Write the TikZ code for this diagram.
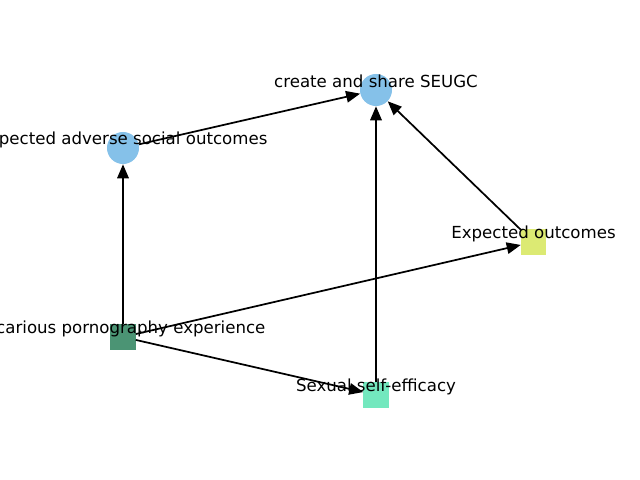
\documentclass[tikz,border=0pt]{standalone}
\usepackage{fontspec}
\setmainfont{DejaVu Sans}
\usepackage{xcolor}
\usepackage{tikz}
\usetikzlibrary{
	positioning,    % posizionamento dei nodi
	arrows.meta     % punte di freccia (Triangle)
}
% Colori dei nodi
\definecolor{blunodo}{RGB}{133,193,233}
\definecolor{verdescuro}{RGB}{75,148,116}
\definecolor{verdeacqua}{RGB}{115,232,190}
\definecolor{giallolime}{RGB}{220,234,115}

\tikzset{
	cerchio/.style={circle, fill=#1, minimum size=0.32in, inner sep=0pt},
	quadrato/.style={rectangle, fill=#1, minimum size=0.25in, inner sep=0pt},
	etichetta/.style={font=\fontsize{12}{14}\selectfont, inner sep=0pt, yshift=0.085in},
	freccia/.style={-{Triangle[length=0.14in, width=0.115in]}, line width=1.25pt, black}
}

\begin{document}
\begin{tikzpicture}[x=0.01in, y=-0.01in]
	% --- Area del disegno (640x480) ---
	\useasboundingbox (0,0) rectangle (640,480);
	\clip (0,0) rectangle (640,480);
	
	% --- Nodi ---
	\node[cerchio=blunodo] (create) at (376, 90) {};
	\node[cerchio=blunodo] (adverse) at (123, 148) {};
	\node[quadrato=verdescuro] (vicarious) at (123, 337) {};
	\node[quadrato=verdeacqua] (efficacy) at (376, 395) {};
	\node[quadrato=giallolime] (outcomes) at (533.5, 242) {};
	
	% --- Archi ---
	\draw[freccia] (adverse) -- (create);
	\draw[freccia] (vicarious) -- (adverse);
	\draw[freccia] (vicarious) -- (outcomes);
	\draw[freccia] (vicarious) -- (efficacy);
	\draw[freccia] (efficacy) -- (create);
	\draw[freccia] (outcomes) -- (create);
	
	% --- Etichette ---
	\node[etichetta] (lcreate) at (create) {create and share SEUGC};
	\node[etichetta] (ladverse) at (adverse) {Expected adverse social outcomes};
	\node[etichetta] (lvicarious) at (vicarious) {Vicarious pornography experience};
	\node[etichetta] (lefficacy) at (efficacy) {Sexual self-efficacy};
	\node[etichetta] (loutcomes) at (outcomes) {Expected outcomes};
\end{tikzpicture}
\end{document}
